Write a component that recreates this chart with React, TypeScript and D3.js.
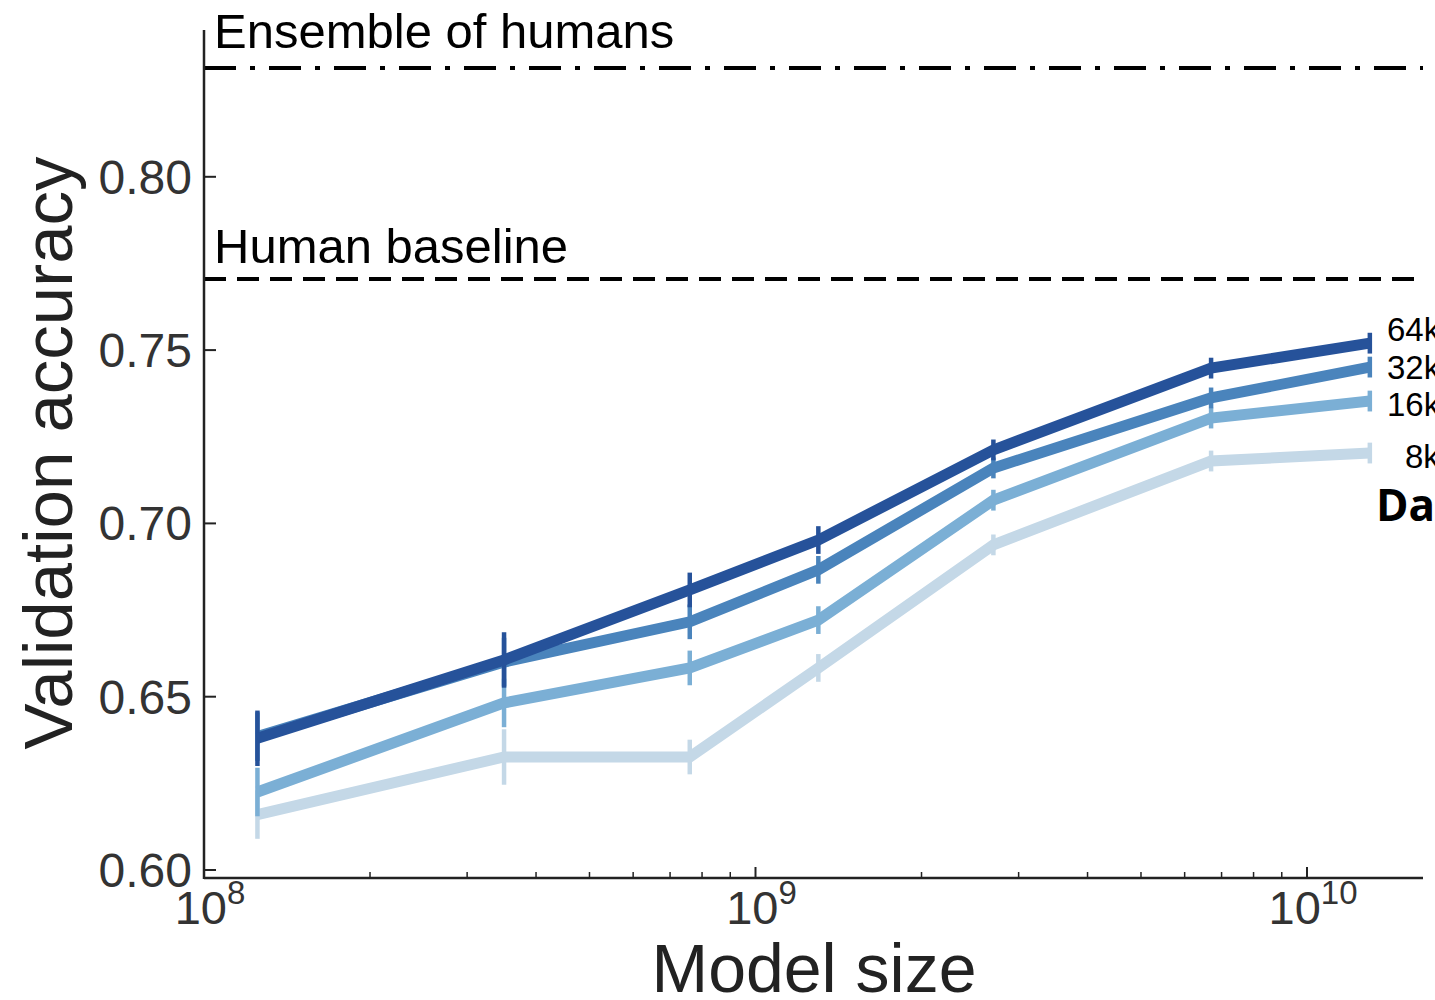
import React from "react";
import * as d3 from "d3";

const modelSizes = [1.25e8, 3.5e8, 7.6e8, 1.3e9, 2.7e9, 6.7e9, 1.3e10];
const seriesNames = ["8k", "16k", "32k", "64k"];
const acc8k = [0.616, 0.6326, 0.6326, 0.6583, 0.6938, 0.718, 0.7203];
const acc16k = [0.6225, 0.6482, 0.6583, 0.6721, 0.7067, 0.7304, 0.7353];
const acc32k = [0.6385, 0.66, 0.6716, 0.6866, 0.716, 0.7362, 0.7451];
const acc64k = [0.638, 0.6606, 0.6808, 0.6952, 0.7212, 0.7448, 0.752];
const err8k = [0.007, 0.008, 0.005, 0.004, 0.003, 0.003, 0.003];
const err16k = [0.007, 0.007, 0.005, 0.004, 0.003, 0.003, 0.003];
const err32k = [0.007, 0.007, 0.005, 0.004, 0.003, 0.003, 0.003];
const err64k = [0.008, 0.008, 0.005, 0.004, 0.003, 0.003, 0.003];
const seriesColors = ["#c4d8e7", "#7bafd5", "#4a84bc", "#26529a"];
const yTicks = [0.6, 0.65, 0.7, 0.75, 0.8];
const xMajorExps = [8, 9, 10];
const ensembleLevel = 0.8314;
const humanLevel = 0.7705;

export default function App() {
  const W = 1435, H = 1000;
  const left = 204, right = 1423, top = 30, bottom = 878;
  const x = d3.scaleLog().domain([1e8, Math.pow(10, 8 + (right - left) / 551.5)]).range([left, right]);
  const y = d3.scaleLinear().domain([0.6 - 8 / 3466, 0.6 + (870 - top) / 3466]).range([bottom, top]);
  const allAcc = [acc8k, acc16k, acc32k, acc64k];
  const allErr = [err8k, err16k, err32k, err64k];
  const line = d3.line<number>().x((_, i) => x(modelSizes[i])).y((v) => y(v));
  const minor: number[] = [];
  for (let e = 8; e <= 10; e++) for (let k = 2; k <= 9; k++) { const v = k * Math.pow(10, e); if (x(v) <= right) minor.push(v); }
  const font = "'Liberation Sans', Arial, Helvetica, sans-serif";
  const labelY = [468, 416, 379, 341];
  const labelX = [1405, 1387, 1387, 1387];
  return (
    <svg width={W} height={H} style={{ position: "absolute", left: 0, top: 0, background: "#fff" }} fontFamily={font}>
      {/* reference lines */}
      <line x1={left} x2={right} y1={y(ensembleLevel)} y2={y(ensembleLevel)} stroke="#000" strokeWidth={4} strokeDasharray="32 14 5 14" />
      <line x1={left} x2={right} y1={y(humanLevel)} y2={y(humanLevel)} stroke="#000" strokeWidth={4} strokeDasharray="22 11" />
      <text x={214} y={48} fontSize={49} fill="#000">Ensemble of humans</text>
      <text x={214} y={263} fontSize={49} fill="#000">Human baseline</text>
      {/* series */}
      {allAcc.map((vals, s) => (
        <g key={seriesNames[s]}>
          {vals.map((v, i) => (
            <line key={i} x1={x(modelSizes[i])} x2={x(modelSizes[i])} y1={y(v - allErr[s][i])} y2={y(v + allErr[s][i])} stroke={seriesColors[s]} strokeWidth={4.5} />
          ))}
          <path d={line(vals) || ""} fill="none" stroke={seriesColors[s]} strokeWidth={11} strokeLinejoin="miter" />
        </g>
      ))}
      {/* axes */}
      <line x1={left} x2={left} y1={top} y2={bottom + 1} stroke="#222" strokeWidth={2.5} />
      <line x1={left} x2={right} y1={bottom} y2={bottom} stroke="#222" strokeWidth={2.5} />
      {yTicks.map((t) => (
        <g key={t}>
          <line x1={left} x2={left + 12} y1={y(t)} y2={y(t)} stroke="#222" strokeWidth={2} />
          <text x={192} y={y(t) + 17} textAnchor="end" fontSize={48} fill="#333">{t.toFixed(2)}</text>
        </g>
      ))}
      {minor.map((v) => (
        <line key={v} x1={x(v)} x2={x(v)} y1={bottom} y2={bottom - 6} stroke="#222" strokeWidth={1.5} />
      ))}
      {xMajorExps.map((e) => (
        <g key={e}>
          <line x1={x(Math.pow(10, e))} x2={x(Math.pow(10, e))} y1={bottom} y2={bottom - 11} stroke="#222" strokeWidth={2} />
          <text x={x(Math.pow(10, e)) + 6} y={924} textAnchor="middle" fontSize={47} fill="#333">
            10<tspan dy={-20} fontSize={33}>{e}</tspan>
          </text>
        </g>
      ))}
      <text x={814} y={992} textAnchor="middle" fontSize={68} fill="#222">Model size</text>
      <text transform={`translate(72,453) rotate(-90)`} textAnchor="middle" fontSize={69} fill="#222">Validation accuracy</text>
      {/* series labels */}
      {seriesNames.map((n, s) => (
        <text key={n} x={labelX[s]} y={labelY[s]} fontSize={33} fill="#000">{n}</text>
      ))}
      <text x={1376} y={521} fontSize={44} fontWeight="bold" fill="#000" fontFamily="'Open Sans', 'Noto Sans', sans-serif">Dataset size</text>
    </svg>
  );
}
